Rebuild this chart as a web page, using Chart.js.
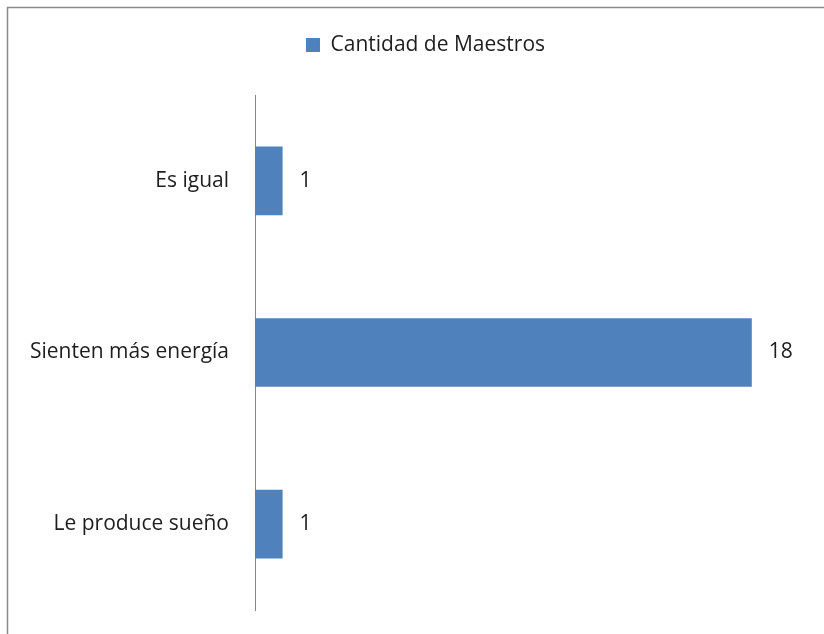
<!DOCTYPE html>
<html lang="es">
<head>
  <meta charset="UTF-8" />
  <title>Cantidad de Maestros</title>
  <script src="https://cdn.jsdelivr.net/npm/chart.js"></script>
  <style>
    body {
      margin: 0;
      background: #fff;
      overflow: hidden;
    }
    canvas {
      display: block;
    }
  </style>
</head>
<body>
  <canvas id="barChart" width="824" height="634"></canvas>

  <script>
    const categorias = ['Es igual', 'Sienten más energía', 'Le produce sueño'];
    const cantidadMaestros = [1, 18, 1];
    const nombreSerie = 'Cantidad de Maestros';
    const ejeMax = 20;

    const fuente = "'Open Sans', sans-serif";
    const colorTexto = '#1e1e1e';

    // marco gris del grafico (solo se ven los bordes de arriba e izquierda)
    const marco = {
      id: 'marco',
      beforeDraw(chart) {
        const ctx = chart.ctx;
        ctx.save();
        ctx.fillStyle = '#fff';
        ctx.fillRect(0, 0, chart.width, chart.height);
        ctx.strokeStyle = '#8a8a8a';
        ctx.lineWidth = 1.5;
        ctx.strokeRect(7.5, 7.5, chart.width + 20, chart.height + 20);
        ctx.restore();
      },
      afterLayout(chart) {
        // la leyenda va un poco a la derecha del centro
        chart.legend.left = 44;
      }
    };

    // valores al final de cada barra
    const etiquetas = {
      id: 'etiquetas',
      afterDatasetsDraw(chart) {
        const ctx = chart.ctx;
        const meta = chart.getDatasetMeta(0);
        ctx.save();
        ctx.font = '21px ' + fuente;
        ctx.fillStyle = colorTexto;
        ctx.textAlign = 'left';
        ctx.textBaseline = 'middle';
        meta.data.forEach((bar, i) => {
          ctx.fillText(String(chart.data.datasets[0].data[i]), bar.x + 17, bar.y);
        });
        ctx.restore();
      }
    };

    new Chart(document.getElementById('barChart').getContext('2d'), {
      type: 'bar',
      data: {
        labels: categorias,
        datasets: [{
          label: nombreSerie,
          data: cantidadMaestros,
          backgroundColor: '#4f81bd',
          borderWidth: 0,
          categoryPercentage: 1,
          barPercentage: 0.4
        }]
      },
      options: {
        indexAxis: 'y',
        responsive: false,
        animation: false,
        layout: {
          padding: { top: 10.5, left: 20, right: 17, bottom: 24 }
        },
        plugins: {
          legend: {
            position: 'top',
            labels: {
              boxWidth: 14,
              boxHeight: 14,
              padding: 24,
              color: colorTexto,
              font: { family: fuente, size: 21 }
            }
          },
          // separador entre la leyenda y el area del grafico
          title: {
            display: true,
            text: '',
            weight: 500,
            font: { size: 10 },
            padding: { top: 0, bottom: 17.5 }
          },
          tooltip: { enabled: false }
        },
        scales: {
          x: {
            display: false,
            min: 0,
            max: ejeMax
          },
          y: {
            grid: { display: false },
            border: { display: true, color: '#868686', width: 1 },
            ticks: {
              color: colorTexto,
              padding: 18,
              font: { family: fuente, size: 21 }
            },
            afterFit(scale) {
              scale.width = 235;
              scale.paddingTop = 0;
              scale.paddingBottom = 0;
            }
          }
        }
      },
      plugins: [marco, etiquetas]
    });
  </script>
</body>
</html>
